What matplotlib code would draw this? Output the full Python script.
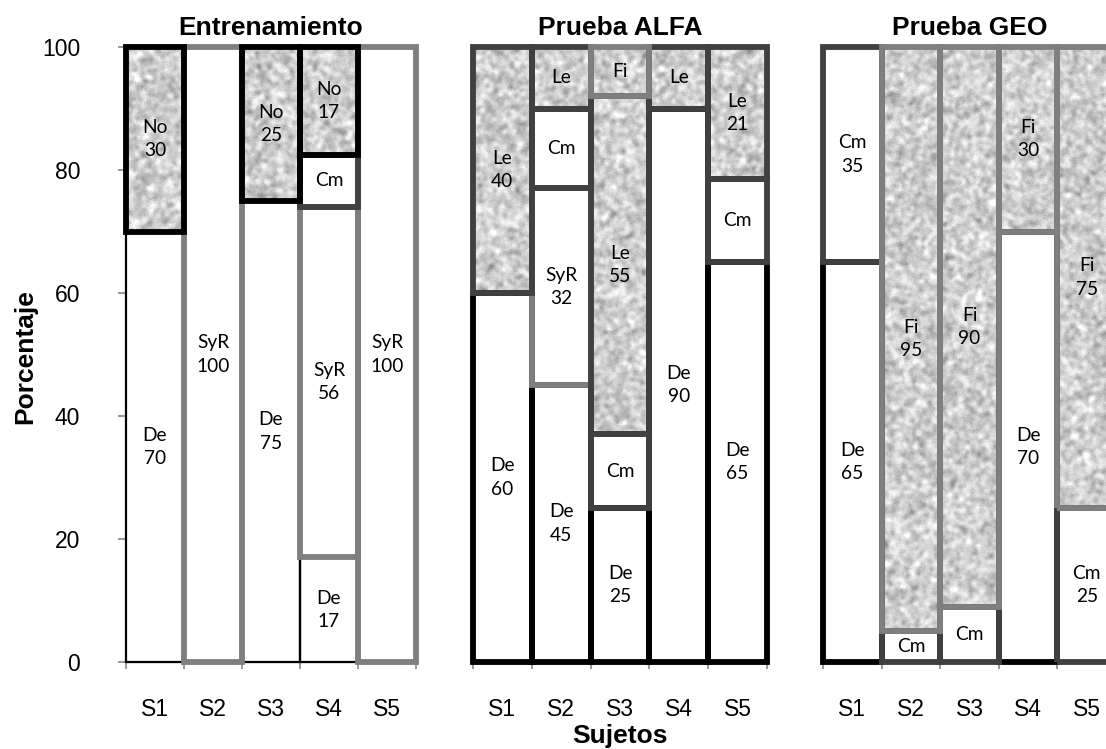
import numpy as np
import matplotlib
matplotlib.use("Agg")
import matplotlib.pyplot as plt

# --- datos ---
subjects = ['S1', 'S2', 'S3', 'S4', 'S5']
panel_titles = ['Entrenamiento', 'Prueba ALFA', 'Prueba GEO']

ent_cats = [['De', 'No'], ['SyR'], ['De', 'No'], ['De', 'SyR', 'Cm', 'No'], ['SyR']]
ent_vals = [[70, 30], [100], [75, 25], [17, 57, 8.5, 17.5], [100]]
ent_labels = [['De\n70', 'No\n30'], ['SyR\n100'], ['De\n75', 'No\n25'],
              ['De\n17', 'SyR\n56', 'Cm', 'No\n17'], ['SyR\n100']]

alfa_cats = [['De', 'Le'], ['De', 'SyR', 'Cm', 'Le'], ['De', 'Cm', 'Le', 'Fi'],
             ['De', 'Le'], ['De', 'Cm', 'Le']]
alfa_vals = [[60, 40], [45, 32, 13, 10], [25, 12, 55, 8], [90, 10], [65, 13.5, 21.5]]
alfa_labels = [['De\n60', 'Le\n40'], ['De\n45', 'SyR\n32', 'Cm', 'Le'],
               ['De\n25', 'Cm', 'Le\n55', 'Fi'], ['De\n90', 'Le'], ['De\n65', 'Cm', 'Le\n21']]

geo_cats = [['De', 'Cm'], ['Cm', 'Fi'], ['Cm', 'Fi'], ['De', 'Fi'], ['Cm', 'Fi']]
geo_vals = [[65, 35], [5, 95], [9, 91], [70, 30], [25, 75]]
geo_labels = [['De\n65', 'Cm\n35'], ['Cm', 'Fi\n95'], ['Cm', 'Fi\n90'],
              ['De\n70', 'Fi\n30'], ['Cm\n25', 'Fi\n75']]

# estilo por categoria: (textura?, color de borde)
cat_order = ['De', 'SyR', 'Cm', 'No', 'Le', 'Fi']
textured = {'De': False, 'SyR': False, 'Cm': False, 'No': True, 'Le': True, 'Fi': True}
edge_col = {'De': '#000000', 'SyR': '#7f7f7f', 'Cm': '#404040',
            'No': '#000000', 'Le': '#404040', 'Fi': '#7f7f7f'}


def make_texture(h, w, seed):
    # textura granulada (solo decorativa, no son datos)
    rng = np.random.default_rng(seed)
    n = rng.normal(size=(h, w))
    k = np.exp(-np.arange(-6, 7) ** 2 / (2 * 1.9 ** 2))
    k /= k.sum()
    n = np.apply_along_axis(lambda r: np.convolve(r, k, mode='same'), 0, n)
    n = np.apply_along_axis(lambda r: np.convolve(r, k, mode='same'), 1, n)
    n /= n.std()
    fine = rng.normal(size=(h, w)) * 0.3
    return np.clip(0.81 + 0.065 * (n + fine), 0.45, 1.0)


W, H = 1106, 749
fig = plt.figure(figsize=(W / 100, H / 100), dpi=100)
fig.patch.set_facecolor('white')

axes_px = [(126, 290), (473, 294), (823, 293)]
bottom_px, top_px = 662, 47

panels = [(ent_cats, ent_vals, ent_labels),
          (alfa_cats, alfa_vals, alfa_labels),
          (geo_cats, geo_vals, geo_labels)]

for p, ((x0, wpx), (cats, vals, labels)) in enumerate(zip(axes_px, panels)):
    ax = fig.add_axes([x0 / W, 1 - bottom_px / H, wpx / W, (bottom_px - top_px) / H])
    tex = make_texture(bottom_px - top_px, wpx, seed=p + 3)
    for i in range(len(subjects)):
        base = 0
        for cat, v, lab in zip(cats[i], vals[i], labels[i]):
            lw = 1.6 if (p == 0 and cat == 'De') else 4.2
            z = 3 + cat_order.index(cat) + i * 0.01
            fc = '#cfcfcf' if textured[cat] else 'white'
            b = ax.bar(i + 0.5, v, width=1.0, bottom=base, color=fc,
                       edgecolor='none', zorder=2, clip_on=False)
            if textured[cat]:
                im = ax.imshow(tex, cmap='gray', vmin=0, vmax=1, extent=(0, 5, 0, 100),
                               origin='lower', aspect='auto', interpolation='nearest',
                               zorder=2.5)
                im.set_clip_path(b.patches[0])
            ax.bar(i + 0.5, v, width=1.0, bottom=base, fill=False,
                   edgecolor=edge_col[cat], linewidth=lw, zorder=z, clip_on=False)
            ax.text(i + 0.5, base + v / 2, lab, ha='center', va='center',
                    fontsize=13.8, family='Lato', linespacing=1.45, zorder=20)
            base += v

    ax.set_xlim(0, 5)
    ax.set_ylim(0, 100)
    ax.set_xticks(np.arange(5) + 0.5)
    ax.set_xticklabels(subjects, fontsize=16.5, family='Liberation Sans')
    ax.set_xticks(np.arange(6), minor=True)
    ax.tick_params(axis='x', which='major', length=0, pad=26)
    ax.tick_params(axis='x', which='minor', length=5, color='#868686', width=1.2)
    for s in ['top', 'right']:
        ax.spines[s].set_visible(False)
    ax.spines['bottom'].set_color('#868686')
    ax.spines['bottom'].set_linewidth(1.5)
    ax.spines['bottom'].set_zorder(1)
    if p == 0:
        ax.set_yticks(np.arange(0, 101, 20))
        ax.set_yticklabels([str(t) for t in range(0, 101, 20)],
                           fontsize=16.5, family='Liberation Sans')
        ax.tick_params(axis='y', length=6, color='#868686', width=1.2, pad=27)
        ax.spines['left'].set_color('#000000')
        ax.spines['left'].set_linewidth(1.2)
    else:
        ax.set_yticks([])
        ax.spines['left'].set_visible(False)
    ax.set_title(panel_titles[p], fontsize=19, fontweight='bold',
                 family='Liberation Sans', pad=9)

fig.text(25 / W, 1 - 357 / H, 'Porcentaje', rotation=90, ha='center', va='center',
         fontsize=19, fontweight='bold', family='Liberation Sans')
fig.text(620 / W, 1 - 736 / H, 'Sujetos', ha='center', va='center',
         fontsize=19, fontweight='bold', family='Liberation Sans')

fig.savefig('out.png', dpi=100, facecolor='white')
